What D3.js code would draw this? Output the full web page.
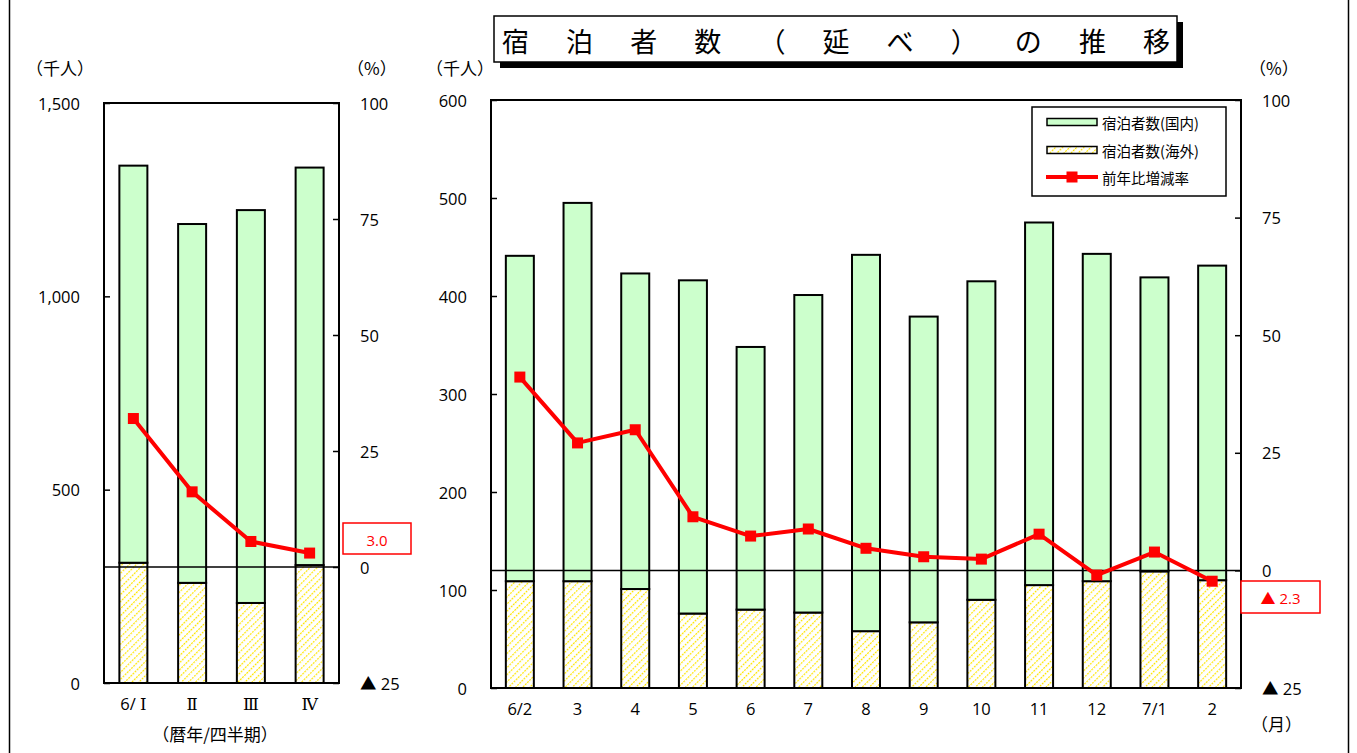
<!DOCTYPE html>
<html>
<head>
<meta charset="utf-8">
<script src="https://cdn.jsdelivr.net/npm/d3@7"></script>
<style>
  html, body { margin: 0; padding: 0; background: #fff; }
  svg { display: block; }
  text { font-family: "Open Sans", "Noto Sans CJK JP", sans-serif; fill: #000; }
  .cjk { font-family: "Noto Sans CJK JP", sans-serif; }
  .roman { font-family: "Open Sans", "DejaVu Serif", serif; }
</style>
</head>
<body>
<svg id="chart" width="1357" height="753"></svg>
<script>
// Quarterly figures (calendar year / quarter), thousand persons and % change
const quarterLabels   = ["6/ Ⅰ", "Ⅱ", "Ⅲ", "Ⅳ"];
const quarterDomestic = [1027, 928, 1016, 1028];
const quarterForeign  = [311, 259, 207, 305];
const quarterRate     = [32.0, 16.2, 5.5, 3.0];

// Monthly figures
const monthLabels   = ["6/2", "3", "4", "5", "6", "7", "8", "9", "10", "11", "12", "7/1", "2"];
const monthDomestic = [332, 386, 322, 340, 268, 324, 384, 312, 325, 370, 334, 300, 321];
const monthForeign  = [109, 109, 101, 76, 80, 77, 58, 67, 90, 105, 109, 119, 110];
const monthRate     = [41.1, 27.1, 29.9, 11.4, 7.3, 8.8, 4.7, 2.9, 2.4, 7.7, -1.0, 3.9, -2.3];

// Axis ticks
const quarterCountTicks = [0, 500, 1000, 1500];
const monthCountTicks   = [0, 100, 200, 300, 400, 500, 600];
const rateTicks         = [-25, 0, 25, 50, 75, 100];

const titleText = "宿泊者数（延べ）の推移";
const legendLabels = ["宿泊者数(国内)", "宿泊者数(海外)", "前年比増減率"];

const GREEN = "#ccffcc";
const RED = "#ff0000";

const svg = d3.select("#chart");
const defs = svg.append("defs");

// Yellow dashed diagonal hatch used for overseas guests
const pat = defs.append("pattern")
  .attr("id", "hatch")
  .attr("patternUnits", "userSpaceOnUse")
  .attr("width", 5).attr("height", 6)
  .attr("patternTransform", "rotate(45)");
pat.append("rect").attr("width", 5).attr("height", 6).attr("fill", "#fff");
pat.append("line")
  .attr("x1", 0).attr("y1", 0).attr("x2", 0).attr("y2", 6)
  .attr("stroke", "#ffe600").attr("stroke-width", 2.4)
  .attr("stroke-dasharray", "2,1");

const fmtCount = d3.format(",");
const fmtRate = v => v < 0 ? "▲ " + Math.abs(v) : String(v);
const fmtRate1 = v => v < 0 ? "▲ " + d3.format(".1f")(Math.abs(v)) : d3.format(".1f")(v);

// Outer frame
svg.append("line").attr("x1", 9.5).attr("x2", 9.5).attr("y1", 0).attr("y2", 753)
  .attr("stroke", "#000").attr("stroke-width", 1.5);
svg.append("line").attr("x1", 1348.5).attr("x2", 1348.5).attr("y1", 0).attr("y2", 753)
  .attr("stroke", "#000").attr("stroke-width", 1.5);

function drawPanel(cfg) {
  const g = svg.append("g");
  const { left, right, top, bottom } = cfg;
  const rows = cfg.labels.map((c, i) => ({ cat: c, foreign: cfg.foreign[i], domestic: cfg.domestic[i], rate: cfg.rate[i] }));

  const x = d3.scaleBand().domain(cfg.labels).range([left, right])
    .paddingInner(cfg.pad).paddingOuter(cfg.pad / 2);
  const y = d3.scaleLinear().domain(cfg.countDomain).range([bottom, top]);
  const yr = d3.scaleLinear().domain([-25, 100]).range([bottom, top]);

  const stack = d3.stack().keys(["foreign", "domestic"])(rows);

  // Bars
  stack.forEach(layer => {
    g.append("g").selectAll("rect").data(layer).join("rect")
      .attr("x", d => x(d.data.cat))
      .attr("width", x.bandwidth())
      .attr("y", d => y(d[1]))
      .attr("height", d => y(d[0]) - y(d[1]))
      .attr("fill", layer.key === "foreign" ? "url(#hatch)" : GREEN)
      .attr("stroke", "#000").attr("stroke-width", 2);
  });

  // Plot frame
  g.append("rect").attr("x", left).attr("y", top)
    .attr("width", right - left).attr("height", bottom - top)
    .attr("fill", "none").attr("stroke", "#000").attr("stroke-width", 2);

  // Zero line of the rate axis
  g.append("line").attr("x1", left).attr("x2", right)
    .attr("y1", yr(0)).attr("y2", yr(0))
    .attr("stroke", "#000").attr("stroke-width", 1.5);

  // Left axis (counts), ticks inside
  const axL = g.append("g").attr("transform", `translate(${left},0)`)
    .call(d3.axisRight(y).tickValues(cfg.countTicks).tickSize(6).tickFormat(""));
  axL.select(".domain").remove();
  axL.selectAll("line").attr("stroke", "#000").attr("stroke-width", 1.5);
  g.append("g").selectAll("text").data(cfg.countTicks).join("text")
    .attr("x", left - 24).attr("y", d => y(d))
    .attr("text-anchor", "end").attr("dominant-baseline", "central")
    .attr("font-size", 16.5).text(d => fmtCount(d));

  // Right axis (rate), ticks inside
  const axR = g.append("g").attr("transform", `translate(${right},0)`)
    .call(d3.axisLeft(yr).tickValues(rateTicks).tickSize(6).tickFormat(""));
  axR.select(".domain").remove();
  axR.selectAll("line").attr("stroke", "#000").attr("stroke-width", 1.5);
  g.append("g").selectAll("text").data(rateTicks).join("text")
    .attr("x", right + 21).attr("y", d => yr(d))
    .attr("text-anchor", "start").attr("dominant-baseline", "central")
    .attr("font-size", 16.5).text(d => fmtRate(d));

  // Category labels
  g.append("g").selectAll("text").data(cfg.labels).join("text")
    .attr("class", cfg.labelClass || null)
    .attr("x", d => x(d) + x.bandwidth() / 2)
    .attr("y", bottom + cfg.labelGap)
    .attr("text-anchor", "middle").attr("dominant-baseline", "central")
    .attr("font-size", 16.5).text(d => d);

  // Unit labels
  g.append("text").attr("class", "cjk").attr("x", cfg.unitLeftX).attr("y", 67)
    .attr("dominant-baseline", "central").attr("font-size", 17).text("（千人）");
  g.append("text").attr("class", "cjk").attr("x", right + 8).attr("y", 67)
    .attr("dominant-baseline", "central").attr("font-size", 17).text("（%）");

  // Rate line with square markers
  const line = d3.line().x(d => x(d.cat) + x.bandwidth() / 2).y(d => yr(d.rate));
  g.append("path").datum(rows).attr("d", line)
    .attr("fill", "none").attr("stroke", RED).attr("stroke-width", 4)
    .attr("stroke-linejoin", "round");
  g.append("g").selectAll("rect").data(rows).join("rect")
    .attr("x", d => x(d.cat) + x.bandwidth() / 2 - 5.5)
    .attr("y", d => yr(d.rate) - 5.5)
    .attr("width", 11).attr("height", 11).attr("fill", RED);

  // Callout with the latest rate value
  const last = rows[rows.length - 1];
  const cb = cfg.callout;
  g.append("rect").attr("x", cb.x).attr("y", cb.y).attr("width", cb.w).attr("height", cb.h)
    .attr("fill", "#fff").attr("stroke", RED).attr("stroke-width", 1.5);
  g.append("text").attr("x", cb.x + cb.w / 2).attr("y", cb.y + cb.h / 2 + 1)
    .attr("text-anchor", "middle").attr("dominant-baseline", "central")
    .attr("font-size", 15).style("fill", RED).text(fmtRate1(last.rate));

  return { g, x, y, yr };
}

// Quarterly panel
const q = drawPanel({
  labels: quarterLabels, domestic: quarterDomestic, foreign: quarterForeign, rate: quarterRate,
  left: 104, right: 339, top: 103, bottom: 683, pad: 1 - 28 / 58.75,
  countDomain: [0, 1500], countTicks: quarterCountTicks,
  labelGap: 20, unitLeftX: 26, labelClass: "roman",
  callout: { x: 343, y: 523, w: 68, h: 31 }
});
q.g.append("text").attr("class", "cjk").attr("x", 215).attr("y", 733)
  .attr("text-anchor", "middle").attr("dominant-baseline", "central")
  .attr("font-size", 17).text("（暦年/四半期）");

// Monthly panel
const m = drawPanel({
  labels: monthLabels, domestic: monthDomestic, foreign: monthForeign, rate: monthRate,
  left: 491, right: 1241, top: 100, bottom: 688, pad: 1 - 28 / 57.69,
  countDomain: [0, 600], countTicks: monthCountTicks,
  labelGap: 20, unitLeftX: 426,
  callout: { x: 1241, y: 581, w: 79, h: 32 }
});
m.g.append("text").attr("class", "cjk").attr("x", 1251).attr("y", 723)
  .attr("dominant-baseline", "central").attr("font-size", 17).text("（月）");

// Legend
const lg = svg.append("g");
lg.append("rect").attr("x", 1032).attr("y", 107).attr("width", 194).attr("height", 89)
  .attr("fill", "#fff").attr("stroke", "#000").attr("stroke-width", 1.5);
const legendY = [122, 150, 177];
lg.selectAll("text").data(legendLabels).join("text")
  .attr("class", "cjk")
  .attr("x", 1102).attr("y", (d, i) => legendY[i])
  .attr("dominant-baseline", "central").attr("font-size", 14.5).text(d => d);
lg.append("rect").attr("x", 1047).attr("y", legendY[0] - 3.5).attr("width", 50).attr("height", 7)
  .attr("fill", GREEN).attr("stroke", "#000").attr("stroke-width", 1.5);
lg.append("rect").attr("x", 1047).attr("y", legendY[1] - 3.5).attr("width", 50).attr("height", 7)
  .attr("fill", "url(#hatch)").attr("stroke", "#000").attr("stroke-width", 1.5);
lg.append("line").attr("x1", 1046).attr("x2", 1098).attr("y1", legendY[2]).attr("y2", legendY[2])
  .attr("stroke", RED).attr("stroke-width", 4);
lg.append("rect").attr("x", 1072 - 5.5).attr("y", legendY[2] - 5.5).attr("width", 11).attr("height", 11)
  .attr("fill", RED);

// Title box with drop shadow
const tg = svg.append("g");
tg.append("rect").attr("x", 500).attr("y", 22).attr("width", 683).attr("height", 46).attr("fill", "#000");
tg.append("rect").attr("x", 494).attr("y", 16).attr("width", 683).attr("height", 46)
  .attr("fill", "#fff").attr("stroke", "#000").attr("stroke-width", 1.5);
tg.append("text").attr("class", "cjk")
  .attr("x", 502).attr("y", 40)
  .attr("dominant-baseline", "central").attr("font-size", 27)
  .attr("textLength", 668).attr("lengthAdjust", "spacing")
  .text(titleText);
</script>
</body>
</html>
